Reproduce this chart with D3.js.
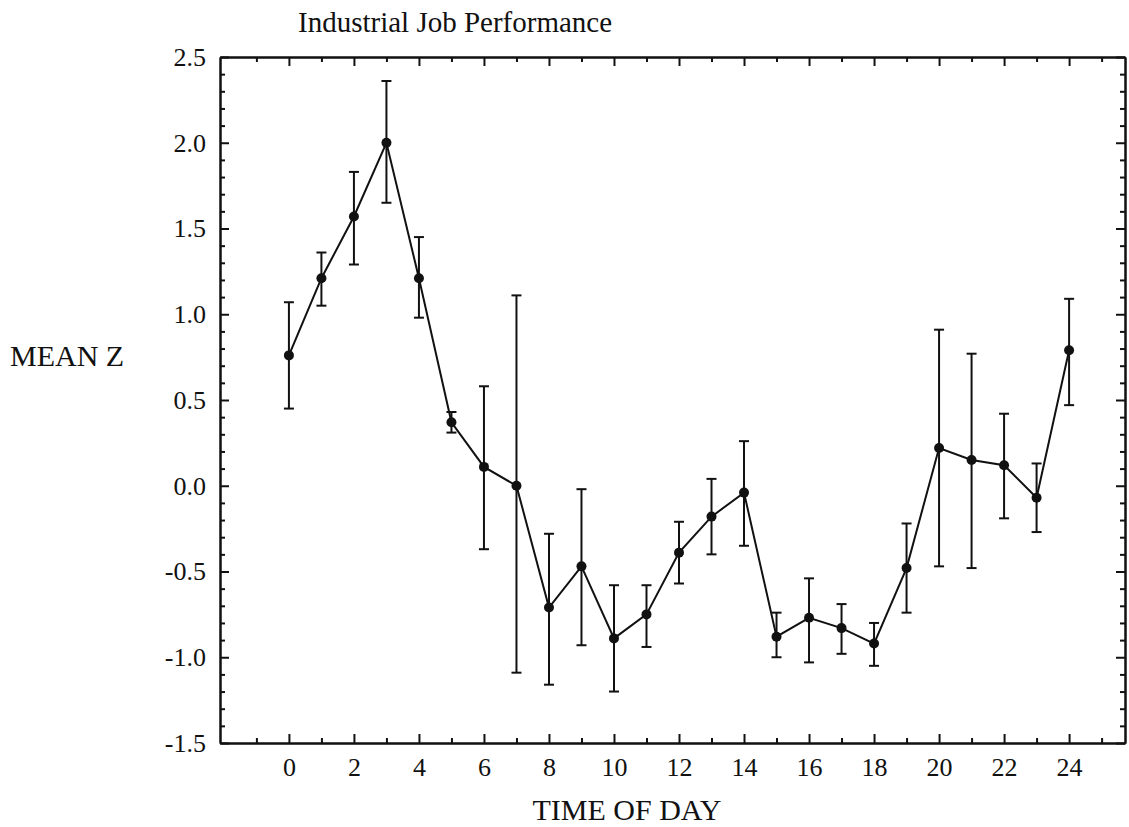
<!DOCTYPE html>
<html>
<head>
<meta charset="utf-8">
<script src="https://cdn.jsdelivr.net/npm/d3@7"></script>
<style>
  body { margin: 0; background: #fff; }
  text { font-family: "Liberation Serif", "Times New Roman", serif; fill: #111; }
  .line { fill: none; stroke: #111; stroke-width: 2px; }
  .err { stroke: #111; stroke-width: 2px; }
  .axis path, .axis line { stroke: #111; stroke-width: 2px; }
  .axis text { font-size: 26px; font-family: "Liberation Serif", "Times New Roman", serif; fill: #111; }
</style>
</head>
<body>
<div id="content"></div>
<script>
// values
var hours = [0, 1, 2, 3, 4, 5, 6, 7, 8, 9, 10, 11, 12, 13, 14, 15, 16, 17, 18, 19, 20, 21, 22, 23, 24];
var meanZ = [0.76, 1.21, 1.57, 2.00, 1.21, 0.37, 0.11, 0.00, -0.71, -0.47, -0.89, -0.75, -0.39,
  -0.18, -0.04, -0.88, -0.77, -0.83, -0.92, -0.48, 0.22, 0.15, 0.12, -0.07, 0.79];
var upper = [1.07, 1.36, 1.83, 2.36, 1.45, 0.43, 0.58, 1.11, -0.28, -0.02, -0.58, -0.58, -0.21,
  0.04, 0.26, -0.74, -0.54, -0.69, -0.80, -0.22, 0.91, 0.77, 0.42, 0.13, 1.09];
var lower = [0.45, 1.05, 1.29, 1.65, 0.98, 0.31, -0.37, -1.09, -1.16, -0.93, -1.20, -0.94, -0.57,
  -0.40, -0.35, -1.00, -1.03, -0.98, -1.05, -0.74, -0.47, -0.48, -0.19, -0.27, 0.47];

var xMajor = [0, 2, 4, 6, 8, 10, 12, 14, 16, 18, 20, 22, 24];
var xMinor = [-1, 1, 3, 5, 7, 9, 11, 13, 15, 17, 19, 21, 23, 25];
var yMajor = [-1.5, -1.0, -0.5, 0.0, 0.5, 1.0, 1.5, 2.0, 2.5];
var yMinor = d3.range(-14, 25).filter(function(d) { return d % 5 !== 0; }).map(function(d) { return d / 10; });

var title = "Industrial Job Performance";
var xTitle = "TIME OF DAY";
var yTitle = "MEAN Z";

// set the dimensions and margins of the graph
var margin = {top: 57, right: 4, bottom: 84, left: 220},
  width = 1129 - margin.left - margin.right,
  height = 827 - margin.top - margin.bottom;

var x = d3.scaleLinear().domain([-2.12, 25.72]).range([0, width]);
var y = d3.scaleLinear().domain([-1.5, 2.5]).range([height, 0]);

var svg = d3.select("#content").append("svg")
  .attr("width", width + margin.left + margin.right)
  .attr("height", height + margin.top + margin.bottom);

var g = svg.append("g")
  .attr("transform", "translate(" + margin.left + "," + margin.top + ")");

// frame + ticks, all pointing inward
g.append("g")
  .attr("class", "axis")
  .attr("transform", "translate(0," + height + ")")
  .call(d3.axisBottom(x).tickValues(xMajor).tickSizeInner(-9).tickSizeOuter(0).tickPadding(15));
g.append("g")
  .attr("class", "axis")
  .attr("transform", "translate(0," + height + ")")
  .call(d3.axisBottom(x).tickValues(xMinor).tickSizeInner(-5).tickSizeOuter(0).tickFormat(""));
g.append("g")
  .attr("class", "axis")
  .call(d3.axisTop(x).tickValues(xMajor).tickSizeInner(-9).tickSizeOuter(0).tickFormat(""));
g.append("g")
  .attr("class", "axis")
  .call(d3.axisTop(x).tickValues(xMinor).tickSizeInner(-5).tickSizeOuter(0).tickFormat(""));

g.append("g")
  .attr("class", "axis")
  .call(d3.axisLeft(y).tickValues(yMajor).tickSizeInner(-9).tickSizeOuter(0).tickPadding(14)
    .tickFormat(function(d) { return d.toFixed(1); }));
g.append("g")
  .attr("class", "axis")
  .call(d3.axisLeft(y).tickValues(yMinor).tickSizeInner(-5).tickSizeOuter(0).tickFormat(""));
g.append("g")
  .attr("class", "axis")
  .attr("transform", "translate(" + width + ",0)")
  .call(d3.axisRight(y).tickValues(yMajor).tickSizeInner(-9).tickSizeOuter(0).tickFormat(""));
g.append("g")
  .attr("class", "axis")
  .attr("transform", "translate(" + width + ",0)")
  .call(d3.axisRight(y).tickValues(yMinor).tickSizeInner(-5).tickSizeOuter(0).tickFormat(""));

var data = hours.map(function(h, i) {
  return {hour: h, val: meanZ[i], hi: upper[i], lo: lower[i]};
});

// error bars
var bars = g.selectAll(".bar").data(data).enter().append("g").attr("class", "bar");
bars.append("line").attr("class", "err")
  .attr("x1", function(d) { return x(d.hour); })
  .attr("x2", function(d) { return x(d.hour); })
  .attr("y1", function(d) { return y(d.hi); })
  .attr("y2", function(d) { return y(d.lo); });
bars.append("line").attr("class", "err")
  .attr("x1", function(d) { return x(d.hour) - 5; })
  .attr("x2", function(d) { return x(d.hour) + 5; })
  .attr("y1", function(d) { return y(d.hi); })
  .attr("y2", function(d) { return y(d.hi); });
bars.append("line").attr("class", "err")
  .attr("x1", function(d) { return x(d.hour) - 5; })
  .attr("x2", function(d) { return x(d.hour) + 5; })
  .attr("y1", function(d) { return y(d.lo); })
  .attr("y2", function(d) { return y(d.lo); });

// mean line
var valueline = d3.line()
  .x(function(d) { return x(d.hour); })
  .y(function(d) { return y(d.val); });

g.append("path")
  .data([data])
  .attr("class", "line")
  .attr("d", valueline);

g.selectAll(".dot").data(data).enter().append("circle")
  .attr("class", "dot")
  .attr("cx", function(d) { return x(d.hour); })
  .attr("cy", function(d) { return y(d.val); })
  .attr("r", 5)
  .attr("fill", "#111");

// titles
svg.append("text")
  .attr("x", 298)
  .attr("y", 32)
  .style("font-size", "29px")
  .text(title);

svg.append("text")
  .attr("x", 10)
  .attr("y", 366)
  .style("font-size", "30px")
  .text(yTitle);

svg.append("text")
  .attr("x", margin.left + x(10.4))
  .attr("y", 820)
  .attr("text-anchor", "middle")
  .style("font-size", "30px")
  .text(xTitle);
</script>
</body>
</html>
